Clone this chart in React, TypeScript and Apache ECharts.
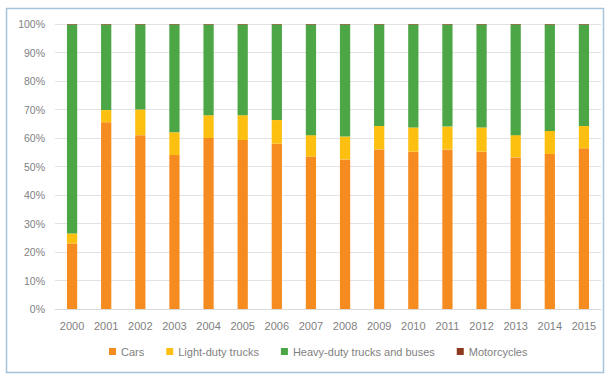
import React, { useEffect, useRef } from "react";
import * as echarts from "echarts";

const years = ["2000","2001","2002","2003","2004","2005","2006","2007","2008","2009","2010","2011","2012","2013","2014","2015"];
const cars = [23, 65.5, 61, 54, 60, 59.3, 58, 53.5, 52.5, 56, 55.2, 56, 55.2, 53.2, 54.4, 56.4];
const lightTrucks = [3.5, 4.3, 9, 8, 8, 8.7, 8.3, 7.5, 8, 8.2, 8.5, 8, 8.5, 7.8, 8.1, 7.8];
const heavyTrucks = [73.3, 30, 29.8, 37.8, 31.8, 31.8, 33.5, 38.8, 39.3, 35.6, 36.1, 35.8, 36.1, 38.8, 37.3, 35.6];
const motorcycles = [0.2, 0.2, 0.2, 0.2, 0.2, 0.2, 0.2, 0.2, 0.2, 0.2, 0.2, 0.2, 0.2, 0.2, 0.2, 0.2];
const yTicks = [0, 10, 20, 30, 40, 50, 60, 70, 80, 90, 100];

export default function App() {
  const ref = useRef<HTMLDivElement>(null);
  useEffect(() => {
    if (!ref.current) return;
    const chart = echarts.init(ref.current, null, { renderer: "svg" });
    const font = "Liberation Sans";
    const mk = (name: string, data: number[], color: string) => ({
      name,
      type: "bar",
      stack: "total",
      data,
      barWidth: "30%",
      itemStyle: { color },
    });
    chart.setOption({
      animation: false,
      backgroundColor: "#ffffff",
      textStyle: { fontFamily: font },
      graphic: [
        {
          type: "rect",
          shape: { x: 6.5, y: 8.5, width: 597, height: 364 },
          style: { fill: "none", stroke: "#A9C4D8", lineWidth: 1.5 },
          silent: true,
        },
      ],
      grid: { left: 55, right: 11, top: 24, bottom: 68 },
      legend: {
        bottom: 15,
        left: 104,
        itemWidth: 7,
        itemHeight: 7,
        itemGap: 22,
        icon: "rect",
        textStyle: { color: "#7F7F7F", fontSize: 11, fontFamily: font },
        data: ["Cars", "Light-duty trucks", "Heavy-duty trucks and buses", "Motorcycles"],
      },
      xAxis: {
        type: "category",
        data: years,
        axisLine: { lineStyle: { color: "#D9D9D9" } },
        axisTick: { show: false },
        axisLabel: { color: "#7F7F7F", fontSize: 11, margin: 11, fontFamily: font },
      },
      yAxis: {
        type: "value",
        min: yTicks[0],
        max: yTicks[yTicks.length - 1],
        interval: 10,
        axisLabel: { formatter: "{value}%", color: "#7F7F7F", fontSize: 10.5, margin: 10, fontFamily: font },
        axisLine: { show: false },
        axisTick: { show: false },
        splitLine: { lineStyle: { color: "#E3E3E3" } },
      },
      series: [
        mk("Cars", cars, "#F68B1F"),
        mk("Light-duty trucks", lightTrucks, "#FDC010"),
        mk("Heavy-duty trucks and buses", heavyTrucks, "#4CA646"),
        mk("Motorcycles", motorcycles, "#8B3A1E"),
      ],
    });
    return () => chart.dispose();
  }, []);
  return <div ref={ref} style={{ width: 612, height: 377, position: "absolute", left: 0, top: 0 }} />;
}
